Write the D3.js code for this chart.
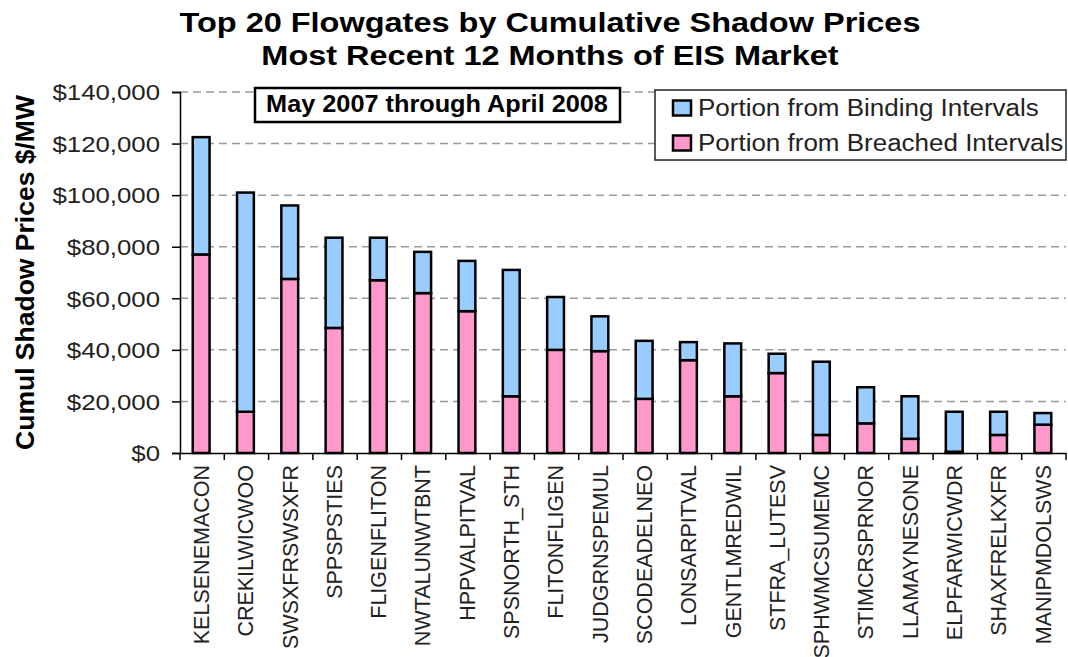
<!DOCTYPE html>
<html>
<head>
<meta charset="utf-8">
<script src="https://cdn.jsdelivr.net/npm/d3@7"></script>
<style>
  html, body { margin: 0; padding: 0; background: #fff; }
  svg { display: block; font-family: "Liberation Sans", Arial, sans-serif; }
</style>
</head>
<body>
<svg id="chart" width="1068" height="657"></svg>
<script>
const titleLines = ["Top 20 Flowgates by Cumulative Shadow Prices", "Most Recent 12 Months of EIS Market"];
const yAxisTitle = "Cumul Shadow Prices $/MW";
const periodNote = "May 2007 through April 2008";
const seriesNames = ["Portion from Binding Intervals", "Portion from Breached Intervals"];
const categories = ["KELSENEMACON", "CREKILWICWOO", "SWSXFRSWSXFR", "SPPSPSTIES", "FLIGENFLITON",
  "NWTALUNWTBNT", "HPPVALPITVAL", "SPSNORTH_STH", "FLITONFLIGEN", "JUDGRNSPEMUL",
  "SCODEADELNEO", "LONSARPITVAL", "GENTLMREDWIL", "STFRA_LUTESV", "SPHWMCSUMEMC",
  "STIMCRSPRNOR", "LLAMAYNESONE", "ELPFARWICWDR", "SHAXFRELKXFR", "MANIPMDOLSWS"];
const breached = [77000, 16000, 67500, 48500, 67000, 62000, 55000, 22000, 40000, 39500,
  21000, 36000, 22000, 31000, 7000, 11500, 5500, 500, 7000, 11000];
const binding = [45500, 85000, 28500, 35000, 16500, 16000, 19500, 49000, 20500, 13500,
  22500, 7000, 20500, 7500, 28400, 14000, 16500, 15500, 9000, 4500];
const yTicks = [0, 20000, 40000, 60000, 80000, 100000, 120000, 140000];

const colors = { breached: "#FF99CC", binding: "#99CCFF" };

const svg = d3.select("#chart");
const margin = { left: 180, right: 2, top: 92, bottom: 204 };
const plotW = 1066 - margin.left;
const plotH = 453 - margin.top;

const table = categories.map((c, i) => ({ cat: c, breached: breached[i], binding: binding[i] }));
const stack = d3.stack().keys(["breached", "binding"])(table);

const x = d3.scaleBand().domain(categories).range([margin.left, margin.left + plotW]).paddingInner(0).paddingOuter(0);
const y = d3.scaleLinear().domain([0, 140000]).range([margin.top + plotH, margin.top]);

// gridlines
svg.append("g").selectAll("line").data(yTicks.filter(d => d > 0)).join("line")
  .attr("x1", margin.left).attr("x2", margin.left + plotW)
  .attr("y1", d => y(d)).attr("y2", d => y(d))
  .attr("stroke", "#999").attr("stroke-width", 1.5).attr("stroke-dasharray", "8,5");

// bars
const barW = x.bandwidth() * 0.38;
svg.append("g").selectAll("g").data(stack).join("g")
  .attr("fill", d => colors[d.key])
  .selectAll("rect").data(d => d).join("rect")
  .attr("x", d => x(d.data.cat) + (x.bandwidth() - barW) / 2 - 1)
  .attr("width", barW)
  .attr("y", d => y(d[1]))
  .attr("height", d => y(d[0]) - y(d[1]))
  .attr("stroke", "#000").attr("stroke-width", 2.5);

// y axis
const yAxis = d3.axisLeft(y).tickValues(yTicks).tickSize(8).tickPadding(6)
  .tickFormat(d => "$" + d3.format(",")(d));
const gy = svg.append("g").attr("transform", `translate(${margin.left},0)`).call(yAxis)
  .attr("font-family", null).attr("font-size", null);
gy.select(".domain").attr("stroke", "#000").attr("stroke-width", 1.5);
gy.selectAll(".tick line").attr("stroke", "#000").attr("stroke-width", 1.5);
gy.selectAll(".tick text").attr("font-size", 21.5).attr("fill", "#222")
  .attr("dy", "0.36em")
  .each(function() {
    const t = d3.select(this);
    const xx = +t.attr("x");
    t.attr("x", null).attr("transform", `translate(${xx - 6},0) scale(1.2,1)`);
  });

// x axis
const gx = svg.append("g").attr("transform", `translate(0,${margin.top + plotH})`)
  .call(d3.axisBottom(x).tickSize(0).tickFormat(() => ""));
gx.select(".domain").attr("stroke", "#000").attr("stroke-width", 1.5);
gx.selectAll(".tick").remove();
svg.append("g").selectAll("line").data(d3.range(categories.length + 1)).join("line")
  .attr("x1", i => margin.left + i * x.step()).attr("x2", i => margin.left + i * x.step())
  .attr("y1", margin.top + plotH).attr("y2", margin.top + plotH + 7)
  .attr("stroke", "#000").attr("stroke-width", 1.5);

// category labels
svg.append("g").selectAll("text").data(categories).join("text")
  .attr("transform", d => `translate(${x(d) + x.bandwidth() / 2 - 1},${margin.top + plotH + 12}) rotate(-90)`)
  .attr("text-anchor", "end").attr("dy", "0.36em")
  .attr("font-size", 21.5).attr("fill", "#222")
  .text(d => d);

// y axis title
svg.append("text")
  .attr("transform", `translate(24,${(93 + 452) / 2}) rotate(-90)`)
  .attr("text-anchor", "middle").attr("dy", "0.36em")
  .attr("font-size", 26.5).attr("font-weight", "bold").attr("fill", "#000")
  .text(yAxisTitle);

// title
svg.append("g").selectAll("text").data(titleLines).join("text")
  .attr("transform", (d, i) => `translate(550,${32 + i * 33}) scale(1.16,1)`)
  .attr("text-anchor", "middle")
  .attr("font-size", 28).attr("font-weight", "bold").attr("fill", "#000")
  .text(d => d);

// period note box
svg.append("rect").attr("x", 255).attr("y", 88).attr("width", 365).attr("height", 34)
  .attr("fill", "#fff").attr("stroke", "#000").attr("stroke-width", 2.5);
svg.append("text").attr("transform", "translate(437,112) scale(1.1,1)")
  .attr("text-anchor", "middle")
  .attr("font-size", 23).attr("font-weight", "bold").attr("fill", "#000")
  .text(periodNote);

// legend
const lg = svg.append("g");
lg.append("rect").attr("x", 655).attr("y", 90).attr("width", 411).attr("height", 70)
  .attr("fill", "#fff").attr("stroke", "#222").attr("stroke-width", 1.5);
const legendItems = [{ name: seriesNames[0], color: colors.binding }, { name: seriesNames[1], color: colors.breached }];
const li = lg.selectAll("g.item").data(legendItems).join("g").attr("class", "item")
  .attr("transform", (d, i) => `translate(673,${108 + i * 35})`);
li.append("rect").attr("x", 0).attr("y", -7.5).attr("width", 18).attr("height", 15)
  .attr("fill", d => d.color).attr("stroke", "#000").attr("stroke-width", 2.5);
li.append("text").attr("transform", "translate(25,0) scale(1.13,1)").attr("dy", "0.36em")
  .attr("font-size", 23).attr("fill", "#222")
  .text(d => d.name);
</script>
</body>
</html>
